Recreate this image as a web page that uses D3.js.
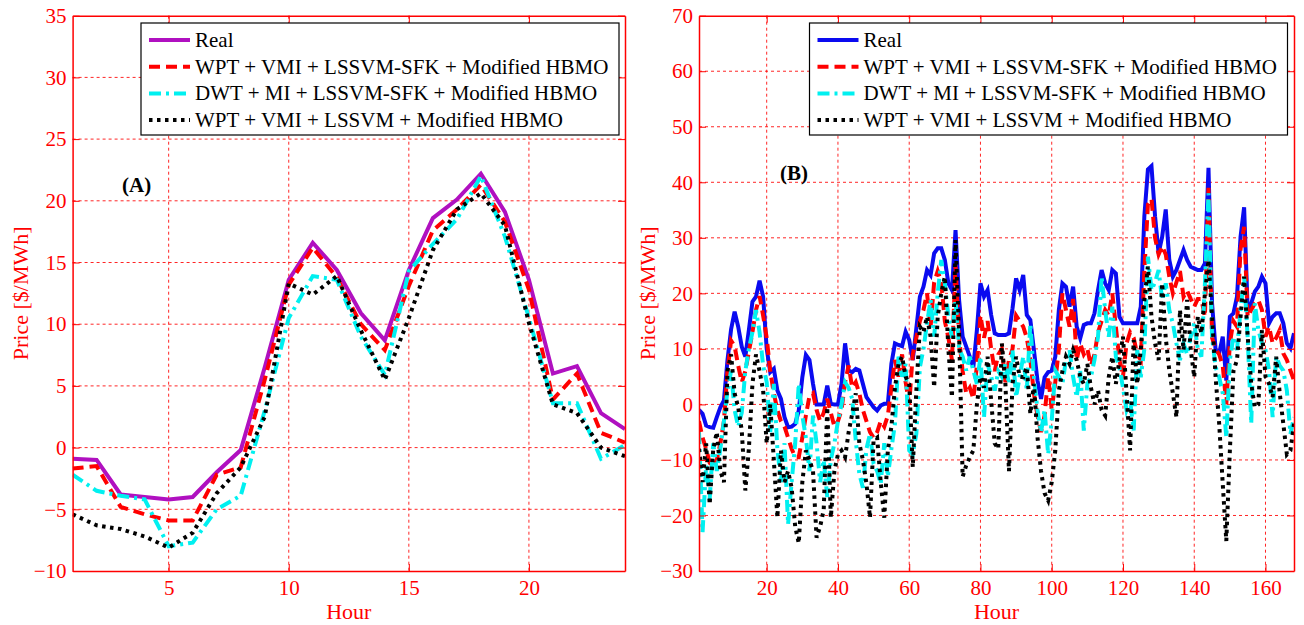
<!doctype html>
<html>
<head>
<meta charset="utf-8">
<style>
    body { margin: 0; background: #fff; }
    svg text, .axis text { font-family: "Liberation Serif", Tinos, "Times New Roman", Times, "DejaVu Serif", serif !important; }
    .axis text { fill: #ff0000; font-size: 21px; }
    .axis .domain { stroke: #ff0000; stroke-width: 1.5; }
    .axis line { stroke: #ff0000; stroke-width: 1; }
    .grid line { stroke: #ff0000; stroke-width: 1; stroke-dasharray: 3,3; opacity: 0.85; }
    .title { fill: #ff0000; font-size: 22px; }
    .panel-label { fill: #000; font-size: 21px; font-weight: bold; }
    .legend rect { fill: #fff; stroke: #000; stroke-width: 1.2; }
    .legend text { fill: #000; font-size: 21px; }
    path.series, line.series { fill: none; stroke-width: 4; }
    .real-a { stroke: #b010c0; }
    .real-b { stroke: #0a0af0; }
    .wpt { stroke: #ff0000; stroke-dasharray: 11,6; }
    .dwt { stroke: #00f0f0; stroke-dasharray: 12,5,3,5; }
    .lssvm { stroke: #000; stroke-dasharray: 3.5,4.5; }
</style>
</head>
<body>
<svg id="chart" width="1304" height="625"></svg>
<script src="https://cdnjs.cloudflare.com/ajax/libs/d3/7.8.5/d3.min.js"></script>
<script>
// legend names
var names = ['Real', 'WPT + VMI + LSSVM-SFK + Modified HBMO', 'DWT + MI + LSSVM-SFK + Modified HBMO', 'WPT + VMI + LSSVM + Modified HBMO'];

// panel A: 24 hours
var xTicksA = [5, 10, 15, 20];
var yTicksA = [-10, -5, 0, 5, 10, 15, 20, 25, 30, 35];
var realA = [-0.9, -1.0, -3.8, -4.0, -4.2, -4.0, -2.0, -0.2, 6.5, 13.6, 16.6, 14.4, 10.9, 8.7, 14.4, 18.6, 20.1, 22.2, 19.1, 13.6, 6.0, 6.6, 2.8, 1.5];
var wptA = [-1.7, -1.5, -4.8, -5.4, -5.9, -5.9, -2.2, -1.6, 5.5, 13.2, 16.2, 13.8, 10.0, 7.9, 13.1, 17.6, 19.3, 21.3, 18.3, 12.8, 3.9, 6.0, 1.2, 0.4];
var dwtA = [-2.2, -3.5, -3.9, -4.2, -8.0, -7.7, -5.0, -3.9, 3.0, 10.5, 13.9, 13.6, 9.0, 5.9, 14.3, 16.5, 18.5, 22.0, 17.1, 10.5, 3.6, 3.6, -0.9, 0.2];
var lssvmA = [-5.4, -6.3, -6.6, -7.2, -8.1, -6.9, -3.7, -1.6, 2.5, 13.3, 12.4, 13.9, 9.5, 5.5, 10.5, 16.0, 19.3, 20.6, 18.0, 10.1, 3.5, 2.8, 0.0, -0.7];

// panel B: 168 hours
var xTicksB = [20, 40, 60, 80, 100, 120, 140, 160];
var yTicksB = [-30, -20, -10, 0, 10, 20, 30, 40, 50, 60, 70];
var realB = [
    -1.0, -1.7, -3.8, -4.1, -4.2, -2.3, -0.5, 0.7, 8.0, 13.5,
    16.7, 14.0, 10.4, 8.6, 13.4, 18.5, 19.4, 22.3, 19.4, 10.0,
    5.8, 6.4, 2.5, 1.0, -2.3, -4.1, -4.0, -3.5, -1.1, 4.9,
    8.9, 8.0, 3.7, 0.0, 0.0, 0.0, 3.4, 0.1, 0.0, 0.0,
    3.7, 11.0, 6.1, 5.8, 6.4, 6.1, 3.7, 1.3, 0.4, -0.5,
    -1.1, -0.2, 0.1, 0.1, 7.3, 11.0, 10.7, 10.5, 13.1, 11.6,
    8.0, 13.7, 19.4, 21.2, 24.2, 23.3, 27.2, 28.1, 28.1, 26.0,
    21.8, 20.6, 31.4, 18.8, 12.2, 10.4, 8.6, 6.7, 13.4, 21.8,
    19.4, 20.6, 16.1, 12.8, 12.5, 12.5, 12.5, 12.8, 17.3, 22.7,
    20.6, 23.3, 16.1, 15.2, 9.8, 4.3, 1.0, 4.9, 5.8, 6.1,
    8.6, 17.0, 21.8, 21.2, 17.6, 21.2, 14.0, 11.9, 14.3, 14.6,
    14.6, 16.4, 20.6, 24.2, 21.8, 20.6, 24.2, 23.6, 15.8, 14.6,
    14.6, 14.6, 14.6, 14.6, 17.6, 33.9, 42.3, 42.9, 33.9, 27.2,
    30.2, 35.1, 26.0, 23.0, 24.2, 26.0, 27.8, 26.0, 24.8, 24.5,
    24.2, 24.2, 25.4, 42.6, 18.2, 9.8, 9.2, 12.2, 4.3, 15.8,
    16.4, 19.4, 30.2, 35.5, 17.0, 18.2, 20.3, 21.2, 23.0, 21.8,
    14.6, 15.8, 16.4, 16.4, 14.6, 11.0, 10.1, 12.8
];
var wptB = [
    -3, -6, -8, -10.5, -11.3, -10, -7, -3, 6, 11.5,
    10.5, 7, 4, 6, 9.5, 13, 17, 19.5, 16, 12,
    6, 2, -1, -3, -4, -6, -8, -9.5, -9.5, -6,
    -2, 1.5, 2, -1, -3, -1.5, 1, -1.5, -4, -3,
    -1, 4, 7, 3, 4, 2, -1, -3, -5, -6,
    -5, -3, -4, -2, 3, 8, 5, 9, 4, 0,
    9, 12, 15, 17, 20, 14, 22, 24, 22, 15,
    12, 8, 25, 12, 6, 2, 3, 1, 7, 16,
    12, 15, 10, 6, 9, 10, 4, 8, 10, 16,
    15, 14, 12, 8, 2, -2, -5, -2, 5, -1,
    4, 10, 20, 17, 14, 19, 8, 11, 9, 10,
    7, 9, 13, 15, 17, 16, 20, 14, 8, 5,
    11, 13, 12, 9, 8, 24, 36, 37, 30, 27,
    28.5, 27, 23, 20, 22, 24, 19.4, 20.5, 19, 17.6,
    19, 19, 15.8, 39, 12, 10, 9, 7, 0, 11,
    15, 14, 28, 32, 15.8, 17, 18.2, 18.8, 17, 12.2,
    14, 11, 12, 13.4, 9.2, 8, 6.1, 4.3
];
var dwtB = [
    -5, -23, -11, -17, -7, -12, -8, -3, 2.5, 6,
    -1, -4, -1.5, 6, 10, 13, 17, 13, 7, 4,
    -5, 3.7, -8, -14, -7, -21.6, -14, -7, 3.7, -2,
    -6, -12, -2, -7, -14, -10, -16.7, -10, -7, -3,
    0, 4, 3, 1, -6.5, -12.5, -15, -8, -5.3, -10.7,
    -12, -14.3, -7, -13, -8, -3.5, 8.6, 5, 7.3, -8.3,
    -9, -5.3, 6.7, 10, 14.6, 18.8, 12.2, 20, 26, 21.8,
    15.8, 12, 18.8, 10, 8.6, 6.1, 8.6, 6.1, 3.7, 8.6,
    -2.3, 7.3, 5, 2.5, 6, 5, 7.3, 3.7, 9.8, 1.3,
    5, 8.6, 2.5, 14.6, 4.9, -1, -5, -1, -9, -2.9,
    6.1, 5, 3.7, 8, 9.8, 5, 1.3, 6.1, -4.7, 3.7,
    4.9, 8, 12.2, 23, 17, 12.2, 17.6, 8.6, 6.7, 3,
    -1, 0.7, -4.7, 9.8, 4.9, 10, 26.6, 20.6, 22, 24.2,
    18.8, 21.8, 17, 14.6, 11, 8, 11, 9, 12.2, 14.6,
    10, 8.6, 21.8, 38, 12, 6.7, 4.9, 2, -5.9, 8,
    12.2, 9.8, 17, 23, 12, -3.5, 18.2, 13.4, 11, 9.8,
    6.1, -2.3, 8.6, 7, 6.1, 2.5, -5.3, -2.3
];
var lssvmB = [
    -8, -14, -7, -18, -8, -5, -12, -14, 6, 9,
    2, -0.5, -4.7, -15.5, -8, 3.7, 9, 6, 2.5, -7,
    0, -10, -20.4, -8.3, -14, -12, -15, -22, -25, -14,
    -8.3, -10, -12, -24, -22, -19, -0.5, -20.4, -12, -9,
    -8.3, -9.5, -5, -1.7, 2, -7, -10, -14.3, -20.4, -6.5,
    -6, -14, -20.4, -8.3, -4, 3, 7.3, 8.6, 5, 3.7,
    -11.3, 2.5, 14, 13, 15.8, 12.2, 3.1, 15.8, 20, 23,
    9.8, 1.3, 29.6, 12.8, -13, -11, -9.5, -8.3, 0, 5,
    3, 8.6, 0.7, -7, -8, 11, 3.7, -12, 3.7, 8.6,
    5, 4.9, 6.7, -1.7, 3.7, -5.9, -12, -16, -17.3, -14,
    -8.3, 2.5, 6, 8.6, 7.3, 9.8, 8, 5, 3.7, 7.3,
    3, 0, 2.5, -1, -2, 4.9, 8.6, 3.7, 8, 12.2,
    2, -8.3, 11.6, 3.7, 9.8, 18.8, 24.8, 15.8, 11, 8,
    21.8, 12, 6.1, 2, -2.3, 17, 9.8, 18.8, 10, 4.9,
    15.8, 12.8, 20, 26, 15.8, 4.9, -3.5, -14.3, -24.6, -8.3,
    6, 8, 15.8, 23, 12.2, 3.7, -0.5, 0, 13.4, 5,
    3.7, 1.3, 8.6, 2, -3.5, -9, -8.3, -3.5
];

var svg = d3.select('#chart');

function drawPanel(p) {
    var x = d3.scaleLinear().domain(p.xDomain).range([p.left, p.right]);
    var y = d3.scaleLinear().domain(p.yDomain).range([p.bottom, p.top]);
    var g = svg.append('g');

    // grid
    var grid = g.append('g').attr('class', 'grid');
    grid.selectAll('line.v').data(p.xTicks).enter().append('line')
        .attr('x1', function(d) { return x(d) }).attr('x2', function(d) { return x(d) })
        .attr('y1', p.top).attr('y2', p.bottom);
    grid.selectAll('line.h').data(p.yTicks.slice(1, -1)).enter().append('line')
        .attr('y1', function(d) { return y(d) }).attr('y2', function(d) { return y(d) })
        .attr('x1', p.left).attr('x2', p.right);

    // lines
    var clipId = 'clip-' + p.id;
    g.append('clipPath').attr('id', clipId).append('rect')
        .attr('x', p.left).attr('y', p.top).attr('width', p.right - p.left).attr('height', p.bottom - p.top);
    var liner = d3.line()
        .x(function(d, i) { return x(i + 1) })
        .y(function(d) { return y(d) });
    p.series.forEach(function(s) {
        g.append('path')
            .attr('class', 'series ' + s.cls)
            .attr('clip-path', 'url(#' + clipId + ')')
            .attr('d', liner(s.values));
    });

    // axes
    g.append('g').attr('class', 'axis').attr('transform', 'translate(0,' + p.bottom + ')')
        .call(d3.axisBottom(x).tickValues(p.xTicks).tickSizeInner(-7).tickSizeOuter(0).tickPadding(9));
    g.append('g').attr('class', 'axis').attr('transform', 'translate(' + p.left + ',0)')
        .call(d3.axisLeft(y).tickValues(p.yTicks).tickSizeInner(-7).tickSizeOuter(0).tickPadding(6));
    g.append('g').attr('class', 'axis').attr('transform', 'translate(0,' + p.top + ')')
        .call(d3.axisTop(x).tickValues(p.xTicks).tickSizeInner(-7).tickSizeOuter(0).tickFormat(''));
    g.append('g').attr('class', 'axis').attr('transform', 'translate(' + p.right + ',0)')
        .call(d3.axisRight(y).tickValues(p.yTicks).tickSizeInner(-7).tickSizeOuter(0).tickFormat(''));
    g.selectAll('.axis').attr('font-size', null).attr('font-family', null);

    // titles
    g.append('text').attr('class', 'title')
        .attr('x', (p.left + p.right) / 2).attr('y', 619)
        .attr('text-anchor', 'middle').text('Hour');
    g.append('text').attr('class', 'title')
        .attr('transform', 'translate(' + p.yTitleX + ',' + (p.top + p.bottom) / 2 + ') rotate(-90)')
        .attr('text-anchor', 'middle').text('Price [$/MWh]');
    g.append('text').attr('class', 'panel-label')
        .attr('x', p.labelX).attr('y', p.labelY).text(p.label);

    // legend
    var lg = g.append('g').attr('class', 'legend').attr('transform', 'translate(' + p.legendX + ',23)');
    lg.append('rect').attr('x', 0).attr('y', 0).attr('width', 478).attr('height', 112);
    p.series.forEach(function(s, i) {
        var ly = 17 + i * 26.7;
        lg.append('line').attr('class', 'series ' + s.cls)
            .attr('x1', 8).attr('x2', 49).attr('y1', ly).attr('y2', ly);
        lg.append('text').attr('x', 54).attr('y', ly + 7).text(names[i]);
    });
}

drawPanel({
    id: 'a', left: 72.6, right: 625, top: 15.7, bottom: 571,
    xDomain: [1, 24], yDomain: [-10, 35],
    xTicks: xTicksA, yTicks: yTicksA,
    yTitleX: 28, label: '(A)', labelX: 122, labelY: 192, legendX: 141,
    series: [
        { cls: 'real-a', values: realA },
        { cls: 'wpt', values: wptA },
        { cls: 'dwt', values: dwtA },
        { cls: 'lssvm', values: lssvmA }
    ]
});

drawPanel({
    id: 'b', left: 699, right: 1294, top: 15.7, bottom: 571,
    xDomain: [1, 168], yDomain: [-30, 70],
    xTicks: xTicksB, yTicks: yTicksB,
    yTitleX: 655, label: '(B)', labelX: 780, labelY: 180, legendX: 809.5,
    series: [
        { cls: 'real-b', values: realB },
        { cls: 'wpt', values: wptB },
        { cls: 'dwt', values: dwtB },
        { cls: 'lssvm', values: lssvmB }
    ]
});
</script>
</body>
</html>
